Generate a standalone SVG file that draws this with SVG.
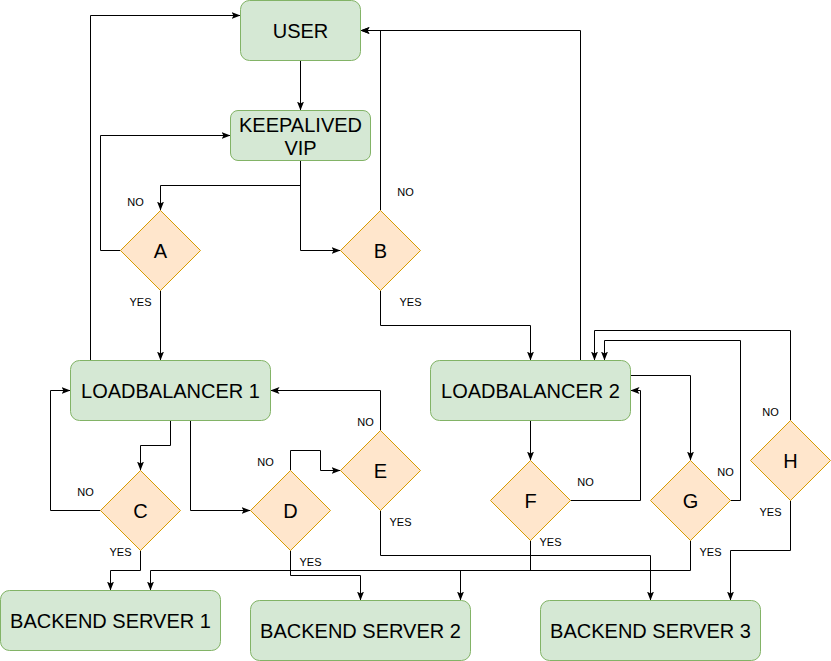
<svg xmlns="http://www.w3.org/2000/svg" width="831" height="661" viewBox="0 0 831 661">
<style>
.box{fill:#d5e8d4;stroke:#82b366;stroke-width:1}
.dia{fill:#ffe6cc;stroke:#d79b00;stroke-width:1}
.t{font-family:"Liberation Sans",Arial,Helvetica,sans-serif;font-size:20px;fill:#000;text-anchor:middle}
.l{font-family:"Liberation Sans",Arial,Helvetica,sans-serif;font-size:11px;fill:#000;text-anchor:middle}
.e{fill:none;stroke:#000;stroke-width:1;marker-end:url(#arr)}
</style>
<defs>
<marker id="arr" markerUnits="userSpaceOnUse" viewBox="0 0 9 7" refX="9" refY="3.5" markerWidth="9" markerHeight="7" orient="auto">
<path d="M0,0 L9,3.5 L0,7 L2,3.5 z" fill="#000"/>
</marker>
</defs>
<rect width="831" height="661" fill="#fff"/>
<g transform="translate(0.5,0.5)">
<g id="connectors">
<path class="e" d="M300,60 L300,110"/>
<path class="e" d="M300,160 L300,185 L160,185 L160,210"/>
<path class="e" d="M300,160 L300,250 L340,250"/>
<path class="e" d="M120,250 L100,250 L100,135 L230,135"/>
<path class="e" d="M160,290 L160,360"/>
<path class="e" d="M380,210 L380,30 L360,30"/>
<path class="e" d="M380,290 L380,325 L530,325 L530,360"/>
<path class="e" d="M90,360 L90,15 L240,15"/>
<path class="e" d="M580,360 L580,30 L360,30"/>
<path class="e" d="M170,420 L170,445 L140,445 L140,470"/>
<path class="e" d="M190,420 L190,510 L250,510"/>
<path class="e" d="M100,510 L50,510 L50,390 L70,390"/>
<path class="e" d="M140,550 L140,570 L110,570 L110,590"/>
<path class="e" d="M290,470 L290,450 L320,450 L320,470 L340,470"/>
<path class="e" d="M290,550 L290,575 L360,575 L360,600"/>
<path class="e" d="M380,430 L380,390 L270,390"/>
<path class="e" d="M380,510 L380,555 L650,555 L650,600"/>
<path class="e" d="M530,420 L530,460"/>
<path class="e" d="M570,500 L640,500 L640,390 L630,390"/>
<path class="e" d="M530,540 L530,570 L460,570 L460,600"/>
<path class="e" d="M630,375 L690,375 L690,460"/>
<path class="e" d="M730,500 L740,500 L740,340 L604,340 L604,360"/>
<path class="e" d="M690,540 L690,570 L150,570 L150,590"/>
<path class="e" d="M790,420 L790,330 L594,330 L594,360"/>
<path class="e" d="M790,500 L790,550 L730,550 L730,600"/>
</g>
<g id="labels">
<text class="l" x="135" y="205">NO</text>
<text class="l" x="140" y="305">YES</text>
<text class="l" x="405" y="195">NO</text>
<text class="l" x="410" y="305">YES</text>
<text class="l" x="85" y="495">NO</text>
<text class="l" x="120" y="555">YES</text>
<text class="l" x="265" y="465">NO</text>
<text class="l" x="310" y="565">YES</text>
<text class="l" x="365" y="425">NO</text>
<text class="l" x="400" y="525">YES</text>
<text class="l" x="585" y="485">NO</text>
<text class="l" x="550" y="545">YES</text>
<text class="l" x="725" y="475">NO</text>
<text class="l" x="710" y="555">YES</text>
<text class="l" x="770" y="415">NO</text>
<text class="l" x="770" y="515">YES</text>
</g>
<g id="user"><rect class="box" x="240" y="0" width="120" height="60" rx="9"/><text class="t" x="300" y="37">USER</text></g>
<g id="keepalived"><rect class="box" x="230" y="110" width="140" height="50" rx="7.5"/><text class="t" x="300" y="131">KEEPALIVED</text><text class="t" x="300" y="154">VIP</text></g>
<g id="A"><path class="dia" d="M160,210 L200,250 L160,290 L120,250 Z"/><text class="t" x="160" y="257">A</text></g>
<g id="B"><path class="dia" d="M380,210 L420,250 L380,290 L340,250 Z"/><text class="t" x="380" y="257">B</text></g>
<g id="lb1"><rect class="box" x="70" y="360" width="200" height="60" rx="9"/><text class="t" x="170" y="397">LOADBALANCER 1</text></g>
<g id="lb2"><rect class="box" x="430" y="360" width="200" height="60" rx="9"/><text class="t" x="530" y="397">LOADBALANCER 2</text></g>
<g id="C"><path class="dia" d="M140,470 L180,510 L140,550 L100,510 Z"/><text class="t" x="140" y="517">C</text></g>
<g id="D"><path class="dia" d="M290,470 L330,510 L290,550 L250,510 Z"/><text class="t" x="290" y="517">D</text></g>
<g id="E"><path class="dia" d="M380,430 L420,470 L380,510 L340,470 Z"/><text class="t" x="380" y="477">E</text></g>
<g id="F"><path class="dia" d="M530,460 L570,500 L530,540 L490,500 Z"/><text class="t" x="530" y="507">F</text></g>
<g id="G"><path class="dia" d="M690,460 L730,500 L690,540 L650,500 Z"/><text class="t" x="690" y="507">G</text></g>
<g id="H"><path class="dia" d="M790,420 L830,460 L790,500 L750,460 Z"/><text class="t" x="790" y="467">H</text></g>
<g id="bs1"><rect class="box" x="0" y="590" width="220" height="60" rx="9"/><text class="t" x="110" y="627">BACKEND SERVER 1</text></g>
<g id="bs2"><rect class="box" x="250" y="600" width="220" height="60" rx="9"/><text class="t" x="360" y="637">BACKEND SERVER 2</text></g>
<g id="bs3"><rect class="box" x="540" y="600" width="220" height="60" rx="9"/><text class="t" x="650" y="637">BACKEND SERVER 3</text></g>
</g>
</svg>
